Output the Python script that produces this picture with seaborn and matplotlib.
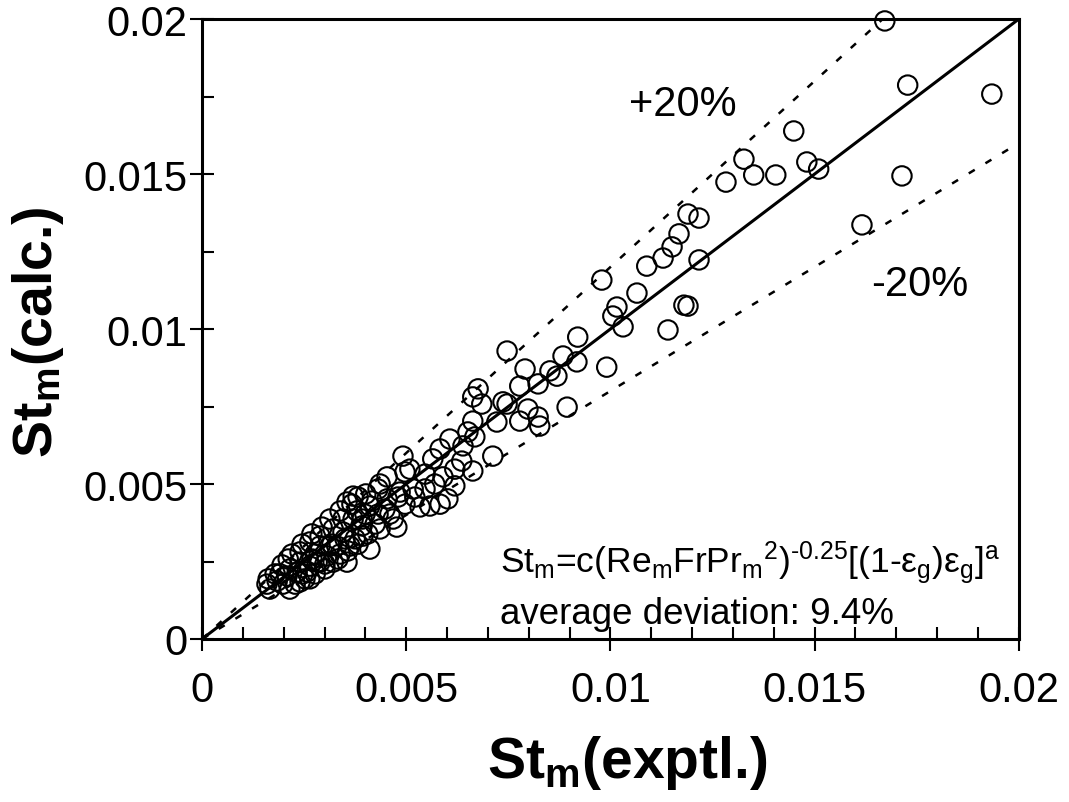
import seaborn as sns
import matplotlib.pyplot as plt
import numpy as np
import pandas as pd

st_exp = [16.72, 17.28, 19.34, 17.14, 16.16, 14.49, 14.81, 15.10, 14.05, 13.51,
          13.27, 12.83, 11.90, 12.17, 11.68, 11.51, 11.29, 10.89, 12.17, 10.65,
          9.79, 10.16, 10.06, 10.31, 11.80, 11.90, 11.41, 9.20, 7.47, 8.84,
          9.18, 9.91, 7.91, 8.52, 8.69, 7.78, 8.23, 6.76, 6.63, 6.85,
          7.37, 7.47, 7.98, 8.94, 8.23, 7.78, 7.22, 8.27, 6.63, 6.51,
          6.68, 7.12, 6.39, 6.63, 5.65, 4.92, 5.09, 4.53, 5.90, 6.19,
          5.17, 5.34, 5.58, 4.85, 4.53, 3.82, 3.70, 4.77, 4.68, 4.11,
          4.11, 3.45, 3.21, 2.89, 2.64, 3.55, 3.62, 3.94, 2.82, 2.57,
          1.59, 1.66, 1.84, 2.11, 2.40, 3.55, 2.33, 2.64, 2.89, 3.21,
          2.08, 1.98, 2.40, 2.64, 3.06, 3.30, 3.45, 3.70, 2.89, 2.40,
          4.36, 3.99, 4.24, 3.75, 3.38, 3.01, 2.15, 1.91, 3.92, 4.48,
          5.83, 6.07, 5.46, 3.18, 2.77, 2.47,
          4.97, 6.02, 5.83, 6.36, 6.19, 4.80, 4.31, 4.01, 3.67, 3.38,
          3.79, 4.16, 3.13, 2.94, 2.69, 2.45, 2.20, 1.96, 1.79, 1.62,
          2.28, 2.52, 2.77, 3.01, 3.33, 3.57, 3.82, 4.06, 4.36, 4.60,
          4.97, 5.21, 5.46, 5.70, 3.13, 3.50, 3.92, 4.31, 2.15, 2.69]
st_calc = [19.94, 17.87, 17.58, 14.94, 13.36, 16.39, 15.39, 15.16, 14.97, 14.97,
           15.48, 14.74, 13.71, 13.58, 13.07, 12.65, 12.29, 12.03, 12.23, 11.16,
           11.58, 10.71, 10.42, 10.07, 10.77, 10.74, 9.97, 9.74, 9.29, 9.13,
           8.94, 8.77, 8.71, 8.65, 8.48, 8.16, 8.23, 8.07, 7.81, 7.58,
           7.65, 7.58, 7.42, 7.48, 7.16, 7.03, 7.00, 6.87, 7.03, 6.68,
           6.52, 5.90, 6.23, 5.42, 5.81, 5.90, 5.48, 5.23, 5.23, 4.94,
           4.84, 4.26, 4.29, 4.74, 4.52, 4.58, 4.61, 3.61, 3.87, 4.29,
           2.90, 3.87, 3.55, 3.32, 3.13, 2.48, 3.00, 3.32, 2.48, 2.16,
           1.77, 1.61, 1.87, 2.58, 2.81, 4.42, 2.16, 2.35, 2.48, 2.48,
           2.03, 1.77, 1.84, 1.94, 2.68, 3.00, 3.45, 3.87, 3.00, 2.48,
           5.00, 4.03, 3.71, 3.23, 2.74, 2.26, 1.61, 2.10, 3.65, 4.19,
           6.13, 6.45, 5.32, 3.06, 2.74, 2.10,
           5.39, 4.52, 4.35, 5.74, 5.48, 4.58, 4.84, 4.68, 4.35, 4.13,
           4.13, 4.45, 3.87, 3.61, 3.39, 3.06, 2.74, 2.39, 2.10, 1.94,
           1.77, 1.94, 2.10, 2.42, 2.58, 2.84, 3.06, 3.39, 3.55, 4.03,
           4.35, 4.58, 4.84, 5.00, 3.00, 3.23, 3.87, 4.03, 2.26, 2.58]

major_ticks = [0, 0.005, 0.01, 0.015, 0.02]
tick_labels = ['0', '0.005', '0.01', '0.015', '0.02']
deviation = 0.2

df = pd.DataFrame({'exp': np.array(st_exp) / 1000, 'calc': np.array(st_calc) / 1000})

sns.set_theme(style='white')
plt.rcParams['font.family'] = ['Liberation Sans', 'DejaVu Sans']
plt.rcParams['text.color'] = 'black'
plt.rcParams['mathtext.fontset'] = 'custom'
plt.rcParams['mathtext.rm'] = 'Liberation Sans'
plt.rcParams['mathtext.it'] = 'Liberation Sans:italic'
plt.rcParams['mathtext.bf'] = 'Liberation Sans:bold'

fig = plt.figure(figsize=(10.69, 8.03), dpi=100)
ax = fig.add_axes([0.189, 0.203, 0.764, 0.772])

# parity and +-20% lines
lim = major_ticks[-1]
ax.plot([0, lim], [0, lim], color='black', lw=2.2, zorder=2)
ax.plot([0, lim / (1 + deviation)], [0, lim], color='black', lw=1.8,
        dashes=(2.8, 5), zorder=2)
ax.plot([0, lim], [0, lim * (1 - deviation)], color='black', lw=1.8,
        dashes=(2.8, 5), zorder=2)

sns.scatterplot(data=df, x='exp', y='calc', ax=ax, marker='o', s=195,
                facecolors='none', edgecolor='black', linewidth=1.5,
                clip_on=False, zorder=3)

ax.set_xlim(0, lim)
ax.set_ylim(0, lim)
ax.set_xticks(major_ticks)
ax.set_xticklabels(tick_labels)
ax.set_yticks(major_ticks)
ax.set_yticklabels(tick_labels)
ax.set_xticks(np.arange(0.001, lim, 0.001), minor=True)
ax.set_yticks(np.arange(0.0025, lim, 0.005), minor=True)

ax.tick_params(axis='both', which='major', direction='inout', length=17,
               width=1.5, labelsize=30, color='black', labelcolor='black')
ax.tick_params(axis='both', which='minor', direction='in', length=8.5,
               width=1.5, color='black')
ax.tick_params(axis='x', which='major', pad=14)
ax.tick_params(axis='y', which='major', pad=2)
ax.tick_params(bottom=True, left=True, top=False, right=False)
ax.tick_params(which='minor', bottom=True, left=True, top=False, right=False)

for sp in ax.spines.values():
    sp.set_color('black')
    sp.set_linewidth(2.2)

ax.set_xlabel(r'St$_\mathbf{m}$(exptl.)', fontsize=41, fontweight='bold',
              color='black')
ax.set_ylabel(r'St$_\mathbf{m}$(calc.)', fontsize=40, fontweight='bold',
              color='black')
ax.xaxis.set_label_coords(0.521, -0.152)
ax.yaxis.set_label_coords(-0.166, 0.497)

ax.text(0.01177, 0.01725, '+20%', fontsize=30, ha='center', va='center')
ax.text(0.01758, 0.01145, '-20%', fontsize=30, ha='center', va='center')
ax.text(0.0073, 0.00216,
        r'St$_\mathrm{m}$=c(Re$_\mathrm{m}$FrPr$_\mathrm{m}$$^\mathrm{2}$)$^\text{-0.25}$'
        r'[(1-$\mathrm{\varepsilon}_\mathrm{g}$)$\mathrm{\varepsilon}_\mathrm{g}$]$^\mathrm{a}$',
        fontsize=25.5, ha='left', va='baseline')
ax.text(0.0073, 0.00052, 'average deviation: 9.4%', fontsize=26.5,
        ha='left', va='baseline')

plt.savefig('out.png', dpi=100)
